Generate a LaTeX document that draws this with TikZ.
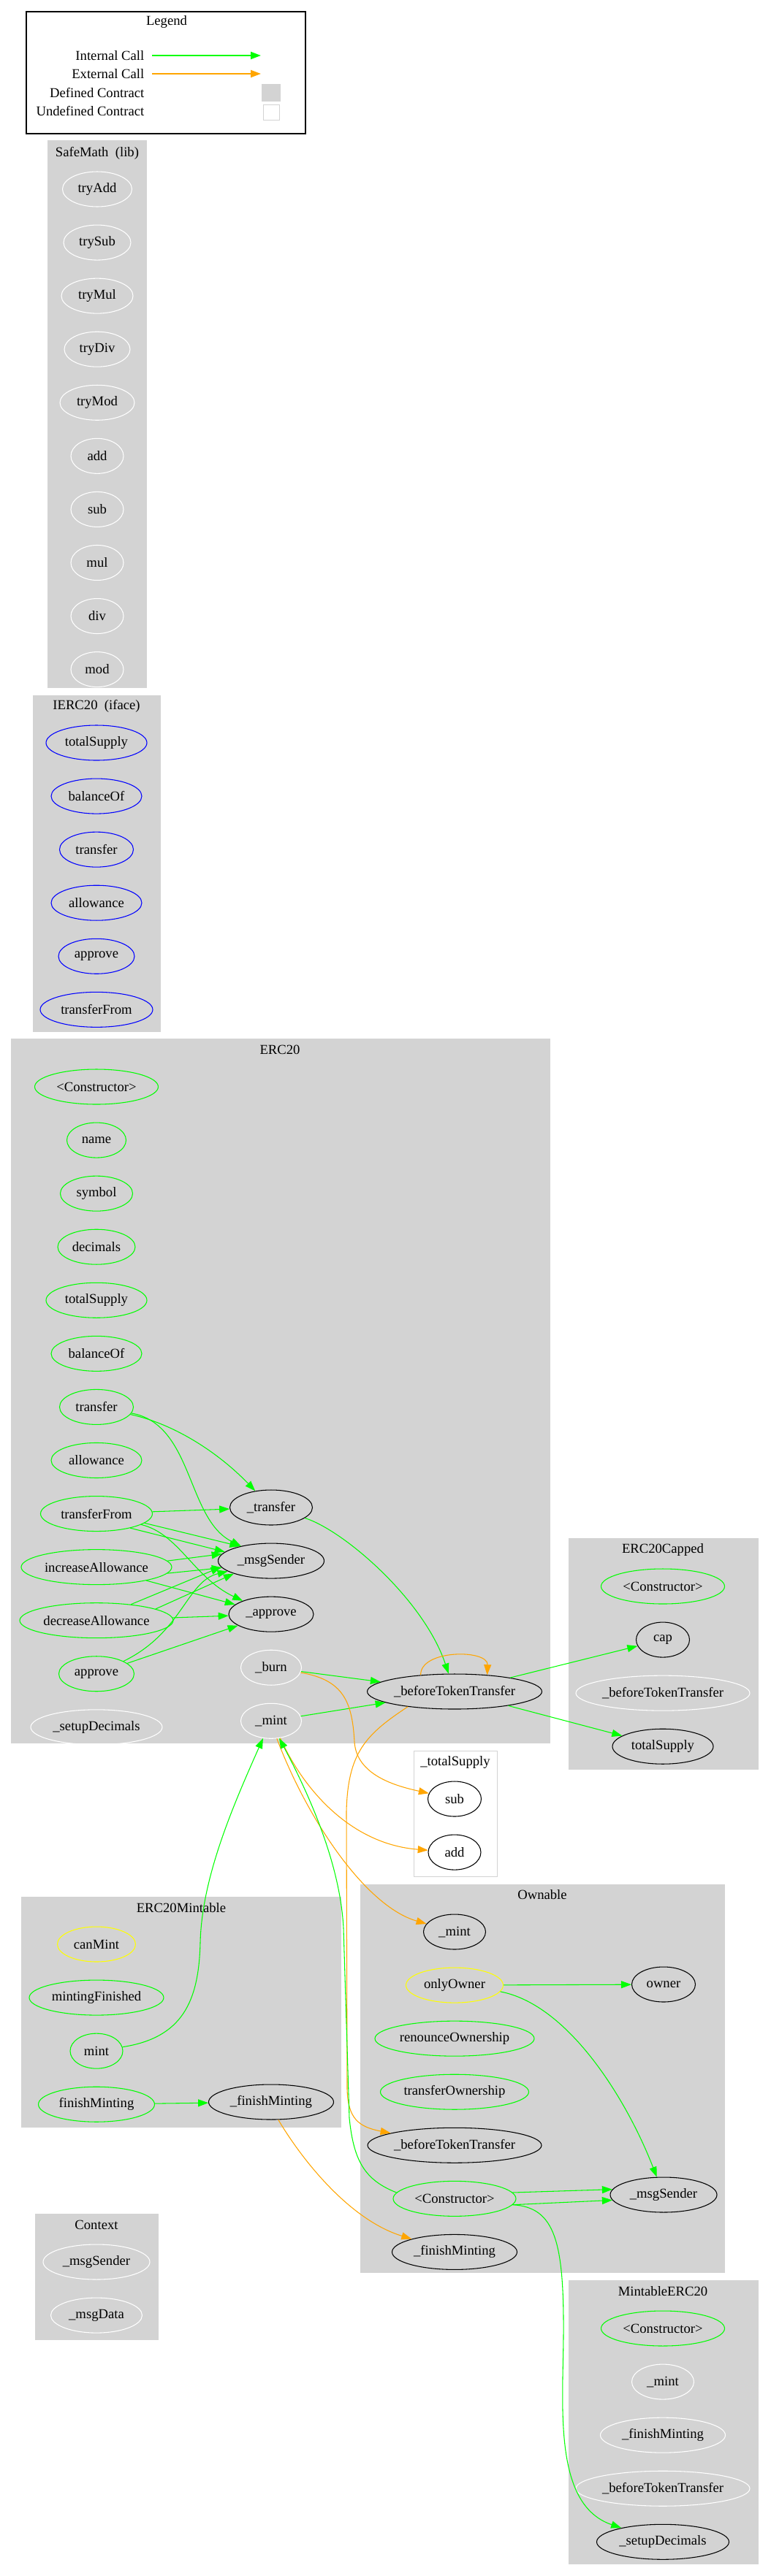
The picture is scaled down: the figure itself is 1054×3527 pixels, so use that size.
\documentclass[tikz,border=0pt]{standalone}
\usepackage{fontspec}
\setmainfont{Liberation Serif}
\usetikzlibrary{arrows.meta, positioning, shapes.geometric}
\definecolor{callgreen}{HTML}{00FF00}
\definecolor{callorange}{HTML}{FFA500}
\definecolor{clustergray}{HTML}{D3D3D3}
\definecolor{ifaceblue}{HTML}{0000FF}
\definecolor{modyellow}{HTML}{FFFF00}

\begin{document}
\begin{tikzpicture}[x=0.75pt, y=-0.75pt, font=\fontsize{14}{16}\selectfont,
    fn/.style={ellipse, draw, line width=0.8pt, inner sep=0pt, minimum height=36pt},
    wd/.style={minimum width=#1*0.75pt},
    pub/.style={fn, draw=callgreen},
    ifc/.style={fn, draw=ifaceblue},
    modf/.style={fn, draw=modyellow},
    undef/.style={fn, draw=white},
    intl/.style={fn, draw=black},
    icall/.style={draw=callgreen, line width=0.8pt, -{Triangle[length=10.5pt,width=7.5pt]}},
    ecall/.style={draw=callorange, line width=0.8pt, -{Triangle[length=10.5pt,width=7.5pt]}}]
  \useasboundingbox (0,0) rectangle (1054,3527);

  % legend
  \draw[line width=1pt] (36,16) rectangle (418,183);
  \node (lgTitle) at (228,30) {Legend};
  \node[anchor=east] (lgInt) at (202,76) {Internal Call};
  \node[anchor=east] (lgExt) at (202,101) {External Call};
  \node[anchor=east] (lgDef) at (202,127) {Defined Contract};
  \node[anchor=east] (lgUndef) at (202,152) {Undefined Contract};
  \coordinate (lgIntA) at (208,76); \coordinate (lgIntB) at (357,76);
  \coordinate (lgExtA) at (208,101); \coordinate (lgExtB) at (357,101);
  \draw[icall, line width=1.5pt] (lgIntA) -- (lgIntB);
  \draw[ecall, line width=1.5pt] (lgExtA) -- (lgExtB);
  \node[fill=clustergray, inner sep=0pt, minimum width=19.5pt, minimum height=18pt] (lgDefBox) at (371,127) {};
  \node[draw=clustergray, line width=0.75pt, inner sep=0pt, minimum width=16.5pt, minimum height=15.75pt] (lgUndefBox) at (371,153.5) {};

  % clusters
  \fill[clustergray] (65,192) rectangle (201,942);
  \fill[clustergray] (45,952) rectangle (220,1413);
  \fill[clustergray] (15,1422) rectangle (753,2387);
  \fill[clustergray] (778,2106) rectangle (1038,2423);
  \draw[clustergray, line width=0.75pt] (566,2397) rectangle (680,2569);
  \fill[clustergray] (493,2580) rectangle (992,3112);
  \fill[clustergray] (29,2597) rectangle (467,2913);
  \fill[clustergray] (48,3031) rectangle (217,3204);
  \fill[clustergray] (778,3122) rectangle (1038,3511);

  % SafeMath
  \node (smTitle) at (133,210) {SafeMath\ \ (lib)};
  \node[undef, wd=95] (smTryAdd) at (133,259) {tryAdd};
  \node[undef, wd=92, below=18pt of smTryAdd] (smTrySub) {trySub};
  \node[undef, wd=98, below=18pt of smTrySub] (smTryMul) {tryMul};
  \node[undef, wd=90, below=18pt of smTryMul] (smTryDiv) {tryDiv};
  \node[undef, wd=102, below=18pt of smTryDiv] (smTryMod) {tryMod};
  \node[undef, wd=72, below=18pt of smTryMod] (smAdd) {add};
  \node[undef, wd=72, below=18pt of smAdd] (smSub) {sub};
  \node[undef, wd=72, below=18pt of smSub] (smMul) {mul};
  \node[undef, wd=72, below=18pt of smMul] (smDiv) {div};
  \node[undef, wd=72, below=18pt of smDiv] (smMod) {mod};

  % IERC20
  \node (ifTitle) at (132,967) {IERC20\ \ (iface)};
  \node[ifc, wd=138] (ifTotal) at (132,1017) {totalSupply};
  \node[ifc, wd=124, below=18pt of ifTotal] (ifBalance) {balanceOf};
  \node[ifc, wd=101, below=18pt of ifBalance] (ifTransfer) {transfer};
  \node[ifc, wd=124, below=18pt of ifTransfer] (ifAllowance) {allowance};
  \node[ifc, wd=104, below=18pt of ifAllowance] (ifApprove) {approve};
  \node[ifc, wd=154, below=18pt of ifApprove] (ifTransferFrom) {transferFrom};

  % ERC20
  \node (erTitle) at (383,1437) {ERC20};
  \node[pub, wd=169] (erCtor) at (132,1488) {<Constructor>};
  \node[pub, wd=81, below=18pt of erCtor] (erName) {name};
  \node[pub, wd=99, below=18pt of erName] (erSymbol) {symbol};
  \node[pub, wd=106, below=18pt of erSymbol] (erDecimals) {decimals};
  \node[pub, wd=138, below=18pt of erDecimals] (erTotal) {totalSupply};
  \node[pub, wd=124, below=18pt of erTotal] (erBalance) {balanceOf};
  \node[pub, wd=101, below=18pt of erBalance] (erTransfer) {transfer};
  \node[pub, wd=124, below=18pt of erTransfer] (erAllowance) {allowance};
  \node[pub, wd=153, below=18pt of erAllowance] (erTransferFrom) {transferFrom};
  \node[pub, wd=206, below=18pt of erTransferFrom] (erIncAllow) {increaseAllowance};
  \node[pub, wd=210, below=18pt of erIncAllow] (erDecAllow) {decreaseAllowance};
  \node[pub, wd=103, below=18pt of erDecAllow] (erApprove) {approve};
  \node[undef, wd=180, below=18pt of erApprove] (erSetup) {\_setupDecimals};
  \node[intl, wd=113] (erUTransfer) at (371,2064) {\_transfer};
  \node[intl, wd=145, below=18pt of erUTransfer] (erMsgSender) {\_msgSender};
  \node[intl, wd=116, below=18pt of erMsgSender] (erUApprove) {\_approve};
  \node[undef, wd=83, below=18pt of erUApprove] (erBurn) {\_burn};
  \node[undef, wd=83, below=18pt of erBurn] (erMint) {\_mint};
  \node[intl, wd=239] (erBefore) at (622,2316) {\_beforeTokenTransfer};

  % ERC20Capped
  \node (cpTitle) at (907,2122) {ERC20Capped};
  \node[pub, wd=169] (cpCtor) at (907,2172) {<Constructor>};
  \node[intl, wd=73, below=18pt of cpCtor] (cpCap) {cap};
  \node[undef, wd=238, below=18pt of cpCap] (cpBefore) {\_beforeTokenTransfer};
  \node[intl, wd=138, below=18pt of cpBefore] (cpTotal) {totalSupply};

  % _totalSupply
  \node (tsTitle) at (623,2413) {\_totalSupply};
  \node[intl, wd=73] (tsSub) at (622,2463) {sub};
  \node[intl, wd=72, below=18pt of tsSub] (tsAdd) {add};

  % Ownable
  \node (owTitle) at (742,2594) {Ownable};
  \node[intl, wd=85] (owMint) at (622,2645) {\_mint};
  \node[modf, wd=133, below=18pt of owMint] (owOnlyOwner) {onlyOwner};
  \node[pub, wd=218, below=18pt of owOnlyOwner] (owRenounce) {renounceOwnership};
  \node[pub, wd=203, below=18pt of owRenounce] (owTransferOwn) {transferOwnership};
  \node[intl, wd=238, below=18pt of owTransferOwn] (owBefore) {\_beforeTokenTransfer};
  \node[pub, wd=168, below=18pt of owBefore] (owCtor) {<Constructor>};
  \node[intl, wd=171, below=18pt of owCtor] (owFinish) {\_finishMinting};
  \node[intl, wd=87] (owOwner) at (908,2717) {owner};
  \node[intl, wd=146] (owMsgSender) at (908,3005) {\_msgSender};

  % ERC20Mintable
  \node (mtTitle) at (248,2612) {ERC20Mintable};
  \node[modf, wd=107] (mtCanMint) at (132,2662) {canMint};
  \node[pub, wd=184, below=18pt of mtCanMint] (mtFinished) {mintingFinished};
  \node[pub, wd=72, below=18pt of mtFinished] (mtMint) {mint};
  \node[pub, wd=159, below=18pt of mtMint] (mtFinish) {finishMinting};
  \node[intl, wd=171] (mtUFinish) at (371,2878) {\_finishMinting};

  % Context
  \node (cxTitle) at (132,3046) {Context};
  \node[undef, wd=146] (cxMsgSender) at (132,3097) {\_msgSender};
  \node[undef, wd=125, below=18pt of cxMsgSender] (cxMsgData) {\_msgData};

  % MintableERC20
  \node (meTitle) at (907,3137) {MintableERC20};
  \node[pub, wd=169] (meCtor) at (907,3188) {<Constructor>};
  \node[undef, wd=85, below=18pt of meCtor] (meMint) {\_mint};
  \node[undef, wd=171, below=18pt of meMint] (meFinish) {\_finishMinting};
  \node[undef, wd=238, below=18pt of meFinish] (meBefore) {\_beforeTokenTransfer};
  \node[intl, wd=181, below=18pt of meBefore] (meSetup) {\_setupDecimals};

  % calls inside ERC20
  \draw[icall] (erTransfer) .. controls (240,1950) and (300,1990) .. (erUTransfer);
  \draw[icall] (erTransfer) .. controls (265,1950) and (255,2080) .. (erMsgSender);
  \draw[icall] (erTransferFrom) -- (erUTransfer);
  \draw[icall] (erTransferFrom.-11) -- (erMsgSender.155);
  \draw[icall] (erTransferFrom.-23) -- (erMsgSender.169);
  \draw[icall] (erTransferFrom) .. controls (245,2100) and (265,2160) .. (erUApprove);
  \draw[icall] (erIncAllow.5) -- (erMsgSender.172);
  \draw[icall] (erIncAllow.-5) -- (erMsgSender.-172);
  \draw[icall] (erIncAllow) -- (erUApprove);
  \draw[icall] (erDecAllow.25) -- (erMsgSender.187);
  \draw[icall] (erDecAllow.11) -- (erMsgSender.199);
  \draw[icall] (erDecAllow) -- (erUApprove);
  \draw[icall] (erApprove) -- (erUApprove);
  \draw[icall] (erApprove.25) .. controls (250,2235) and (255,2165) .. (erMsgSender);
  \draw[icall] (erUTransfer) .. controls (470,2095) and (580,2190) .. (erBefore);
  \draw[icall] (erBurn) -- (erBefore);
  \draw[icall] (erMint) -- (erBefore);
  \draw[ecall] (erBefore.154) .. controls (575,2258) and (668,2258) .. (erBefore.27);

  % calls across contracts
  \draw[icall] (erBefore) -- (cpCap);
  \draw[icall] (erBefore) -- (cpTotal);
  \draw[ecall] (erBurn) .. controls (470,2300) and (482,2330) .. (485,2385)
    .. controls (488,2430) and (540,2445) .. (tsSub);
  \draw[ecall] (erMint.-62) .. controls (415,2450) and (480,2525) .. (tsAdd);
  \draw[ecall] (erMint.-72) .. controls (420,2490) and (500,2610) .. (owMint);
  \draw[ecall] (erBefore.198) .. controls (500,2375) and (476,2400) .. (474,2480)
    -- (475,2860) .. controls (476,2900) and (490,2912) .. (owBefore);
  \draw[icall] (mtMint) .. controls (250,2790) and (272,2740) .. (274,2660)
    .. controls (276,2570) and (320,2470) .. (erMint.-115);
  \draw[icall] (owCtor.174) .. controls (500,2985) and (484,2960) .. (478,2900)
    -- (470,2640) .. controls (466,2560) and (430,2470) .. (erMint.-65);
  \draw[icall] (mtFinish) -- (mtUFinish);
  \draw[ecall] (mtUFinish.-68) .. controls (415,2960) and (480,3040) .. (owFinish);
  \draw[icall] (owOnlyOwner) -- (owOwner);
  \draw[icall] (owOnlyOwner.-8) .. controls (780,2745) and (860,2880) .. (owMsgSender);
  \draw[icall] (owCtor.6) -- (owMsgSender.174);
  \draw[icall] (owCtor.-6) -- (owMsgSender.-174);
  \draw[icall] (owCtor.-6) .. controls (760,3022) and (772,3070) .. (771,3200)
    .. controls (770,3300) and (758,3430) .. (meSetup);
\end{tikzpicture}
\end{document}
